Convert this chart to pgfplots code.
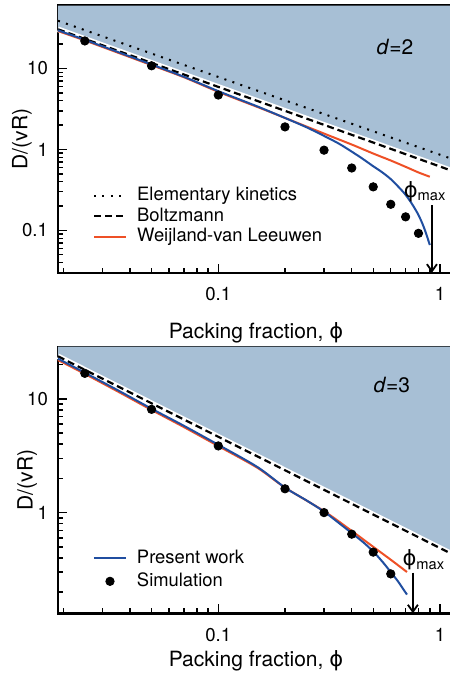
\documentclass[border=0pt]{standalone}
\usepackage{fontspec}
\setmainfont{TeX Gyre Heros}
\newfontfamily\dvs{DejaVu Sans}
\usepackage{pgfplots}
\pgfplotsset{compat=1.18}
\usetikzlibrary{arrows.meta}
\definecolor{shade}{RGB}{167,191,213}
\definecolor{cblue}{RGB}{32,78,160}
\definecolor{cred}{RGB}{238,80,38}
\newcommand{\phisym}{{\dvs ϕ}}
\pgfplotsset{
 legend image code/.code={\draw[mark repeat=2,mark phase=2,#1] plot coordinates {(0pt,0pt) (8pt,0pt) (16pt,0pt)};},
}
\begin{document}
\begin{tikzpicture}
% ---------------- top panel: d=2 ----------------
\begin{axis}[xmode=log, ymode=log, scale only axis, width=198pt, clip=false,
  xmin=0.01892, xmax=1.157,
  log ticks with fixed point,
  xtick={0.1,1}, xticklabels={0.1,\phantom{1}},
  minor xtick={0.02,0.03,0.04,0.05,0.06,0.07,0.08,0.09,0.2,0.3,0.4,0.5,0.6,0.7,0.8,0.9},
  tick align=inside, tick pos=left,
  major tick length=4.5pt, minor tick length=2.5pt,
  every tick/.style={black, line width=0.7pt},
  axis line style={line width=1.2pt},
  /pgf/number format/assume math mode=true,
  ticklabel style={font=\fontsize{9.3}{11}\selectfont},
  xticklabel style={yshift=-4pt},
  yticklabel style={xshift=-1.5pt},
  label style={font=\fontsize{10.5}{12}\selectfont},
  xlabel={Packing fraction, \phisym},
  ylabel={D/(vR)},
  legend style={draw=none, fill=none, inner sep=0pt, outer sep=0pt, anchor=north west,
    font=\fontsize{9.2}{11}\selectfont,
    nodes={inner sep=0pt, text height=7pt, text depth=2pt}},
  legend cell align=left,
  at={(29pt,-2.75pt)}, anchor=north west, height=133.6pt,
  ymin=0.03, ymax=60, ytick={0.1,1,10},
  minor ytick={0.04,0.05,0.06,0.07,0.08,0.09,0.2,0.3,0.4,0.5,0.6,0.7,0.8,0.9,2,3,4,5,6,7,8,9,20,30,40,50},
  xlabel style={at={(axis description cs:0.5,-0.245)}, anchor=base},
  ylabel style={at={(axis description cs:-0.117,0.5)}, anchor=north, inner sep=0pt},
  legend style={at={(axis description cs:0.0884,0.322)}, row sep=1.3pt}]
\addplot[fill=shade, draw=none, forget plot] coordinates {(0.01892,30.5) (1.157,0.533) (1.157,60) (0.01892,60)} -- cycle;
\addplot[white, line width=2.8pt, forget plot] coordinates {(0.01892,30.5) (1.157,0.533)};
\addplot[black, line width=1pt, dash pattern=on 1pt off 3.2pt] coordinates {(0.01892,38.9) (1.157,0.749)};
\addlegendentry{\hspace{5pt}Elementary kinetics}
\addplot[black, line width=1.1pt, dash pattern=on 3.5pt off 2pt] coordinates {(0.01892,30.5) (1.157,0.533)};
\addlegendentry{\hspace{5pt}Boltzmann}
\addplot[cred, line width=1pt, smooth] coordinates {(0.01892,29.0) (0.025,22.2) (0.035,15.8) (0.05,11.0) (0.07,7.8) (0.1,5.15) (0.15,3.35) (0.2,2.45) (0.3,1.57) (0.4,1.15) (0.5,0.89) (0.6,0.73) (0.7,0.61) (0.8,0.52) (0.9,0.46)};
\addlegendentry{\hspace{5pt}Weijland-van Leeuwen}
\addplot[cblue, line width=1pt, smooth, forget plot] coordinates {(0.01892,29.6) (0.025,22.6) (0.035,16.1) (0.05,11.2) (0.07,7.9) (0.1,5.25) (0.15,3.4) (0.2,2.45) (0.25,1.88) (0.3,1.47) (0.35,1.18) (0.4,0.94) (0.45,0.76) (0.5,0.62) (0.55,0.52) (0.6,0.43) (0.65,0.345) (0.7,0.275) (0.75,0.21) (0.8,0.155) (0.84,0.115) (0.87,0.088) (0.9,0.066)};
\addplot[only marks, mark=*, mark size=2.1pt, black, forget plot] coordinates {(0.025,21.9) (0.05,10.8) (0.1,4.7) (0.2,1.9) (0.3,0.98) (0.4,0.59) (0.5,0.345) (0.6,0.21) (0.7,0.147) (0.8,0.092)};
\node[font=\fontsize{10.5}{12}\selectfont] at (rel axis cs:0.851,0.846) {\textit{d}=2};
\node[font=\fontsize{10.5}{12}\selectfont] at (rel axis cs:0.927,0.303) {\phisym\textsubscript{max}};
\node[font=\fontsize{9.3}{11}\selectfont, anchor=north, yshift=-4pt] at (axis cs:1,0.03) {1};
\draw[-{Straight Barb[length=3.5pt,width=5pt]}, line width=0.9pt] (axis cs:0.92,0.205) -- (axis cs:0.92,0.03);
\end{axis}
% ---------------- bottom panel: d=3 ----------------
\begin{axis}[xmode=log, ymode=log, scale only axis, width=198pt, clip=false,
  xmin=0.01892, xmax=1.157,
  log ticks with fixed point,
  xtick={0.1,1}, xticklabels={0.1,\phantom{1}},
  minor xtick={0.02,0.03,0.04,0.05,0.06,0.07,0.08,0.09,0.2,0.3,0.4,0.5,0.6,0.7,0.8,0.9},
  tick align=inside, tick pos=left,
  major tick length=4.5pt, minor tick length=2.5pt,
  every tick/.style={black, line width=0.7pt},
  axis line style={line width=1.2pt},
  /pgf/number format/assume math mode=true,
  ticklabel style={font=\fontsize{9.3}{11}\selectfont},
  xticklabel style={yshift=-4pt},
  yticklabel style={xshift=-1.5pt},
  label style={font=\fontsize{10.5}{12}\selectfont},
  xlabel={Packing fraction, \phisym},
  ylabel={D/(vR)},
  legend style={draw=none, fill=none, inner sep=0pt, outer sep=0pt, anchor=north west,
    font=\fontsize{9.2}{11}\selectfont,
    nodes={inner sep=0pt, text height=7pt, text depth=2pt}},
  legend cell align=left,
  at={(29pt,-173.35pt)}, anchor=north west, height=133.3pt,
  ymin=0.13, ymax=28.8, ytick={1,10},
  minor ytick={0.2,0.3,0.4,0.5,0.6,0.7,0.8,0.9,2,3,4,5,6,7,8,9,20},
  xlabel style={at={(axis description cs:0.5,-0.2)}, anchor=base},
  ylabel style={at={(axis description cs:-0.104,0.5)}, anchor=north, inner sep=0pt},
  legend style={at={(axis description cs:0.0884,0.24)}, row sep=2.5pt}]
\addplot[fill=shade, draw=none, forget plot] coordinates {(0.01892,23.7) (1.157,0.423) (1.157,28.8) (0.01892,28.8)} -- cycle;
\addplot[white, line width=2.8pt, forget plot] coordinates {(0.01892,23.7) (1.157,0.423)};
\addplot[black, line width=1.1pt, dash pattern=on 3.5pt off 2pt, forget plot] coordinates {(0.01892,23.7) (1.157,0.423)};
\addplot[cred, line width=1pt, smooth, forget plot] coordinates {(0.01892,22.0) (0.025,16.6) (0.035,11.7) (0.05,8.0) (0.07,5.65) (0.1,3.85) (0.15,2.48) (0.2,1.66) (0.3,1.03) (0.4,0.69) (0.5,0.50) (0.6,0.385) (0.71,0.30)};
\addplot[cblue, line width=1pt, smooth] coordinates {(0.01892,22.6) (0.025,17.0) (0.035,12.0) (0.05,8.2) (0.07,5.8) (0.1,3.95) (0.15,2.52) (0.2,1.66) (0.25,1.28) (0.3,1.02) (0.35,0.81) (0.4,0.66) (0.45,0.55) (0.5,0.455) (0.55,0.37) (0.6,0.30) (0.65,0.245) (0.68,0.215) (0.71,0.19)};
\addlegendentry{\hspace{5pt}Present work}
\addplot[only marks, mark=*, mark size=2.1pt, black] coordinates {(0.025,16.8) (0.05,8.1) (0.1,3.86) (0.2,1.62) (0.3,1.0) (0.4,0.646) (0.5,0.449) (0.6,0.289)};
\addlegendentry{\hspace{5pt}Simulation}
\node[font=\fontsize{10.5}{12}\selectfont] at (rel axis cs:0.843,0.856) {\textit{d}=3};
\node[font=\fontsize{10.5}{12}\selectfont] at (rel axis cs:0.924,0.2) {\phisym\textsubscript{max}};
\node[font=\fontsize{9.3}{11}\selectfont, anchor=north, yshift=-4pt] at (axis cs:1,0.13) {1};
\draw[-{Straight Barb[length=3.5pt,width=5pt]}, line width=0.9pt] (axis cs:0.755,0.297) -- (axis cs:0.755,0.13);
\end{axis}
\pgfresetboundingbox
\path (0,0) rectangle (225pt,-338.5pt);
\end{tikzpicture}
\end{document}
